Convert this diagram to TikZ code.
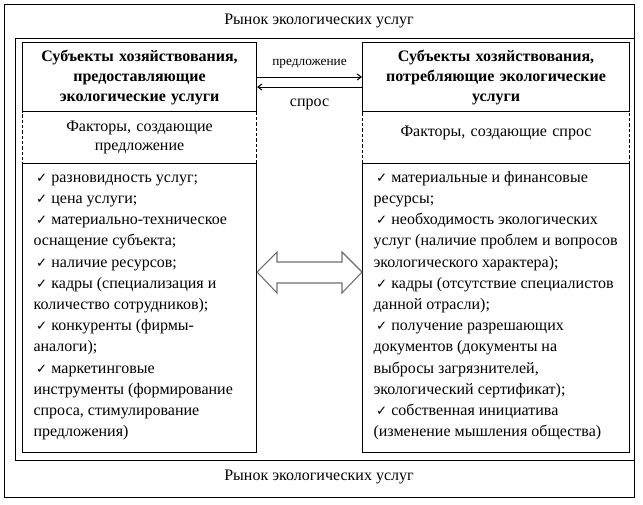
\documentclass[tikz,border=0pt]{standalone}
\usepackage{fontspec}
\setmainfont{Liberation Serif}
\newfontfamily\symfont{DejaVu Sans}
\usetikzlibrary{arrows.meta,calc,positioning}
\definecolor{ArrGray}{RGB}{110,110,110}

\newcommand{\chk}{\strut\hspace*{2pt}{\symfont\fontsize{10}{10}\selectfont ✓}\hspace{3pt}}

\tikzset{
  frame/.style={draw,anchor=north west,inner sep=0pt},
  headbox/.style={draw,anchor=north west,inner sep=0pt,align=center,
    font=\fontsize{12}{15}\selectfont\bfseries,minimum height=51.75pt},
  facbox/.style={draw,anchor=north west,inner sep=0pt,align=center,
    dash pattern=on 2.5pt off 1.5pt,minimum height=39pt,
    font=\fontsize{12}{14.3}\selectfont},
  listbox/.style={draw,anchor=north west,inner sep=0pt,minimum height=216.75pt},
  listtext/.style={anchor=north west,inner sep=0pt,align=left},
  tip/.style={-{Straight Barb[length=3pt,width=4.5pt]}}
}

\begin{document}
\begin{tikzpicture}[x=0.75pt,y=-0.75pt,line width=0.8pt,
  every node/.style={font=\fontsize{12}{15.9}\selectfont}]
\useasboundingbox (0,0) rectangle (643,504);
% рынок
\node[frame,minimum width=472.5pt,minimum height=369.75pt] (market) at (4,4) {};
\node (mtop) at (319,21) {Рынок экологических услуг};
\node (mbot) at (319,477) {Рынок экологических услуг};
\node[frame,minimum width=464.25pt,minimum height=316.5pt] (field) at (15,38) {};
% предложение
\node[headbox,minimum width=175.5pt,text width=170pt] (lhead) at (22,42)
  {Субъекты хозяйствования,\\предоставляющие\\экологические услуги};
\node[facbox,minimum width=175.5pt,text width=170pt] (lfac) at (22,111)
  {Факторы, создающие\\предложение};
\node[listbox,minimum width=175.5pt] (llist) at (22,163) {};
\node[listtext] (litems) at (33,167) {\chk разновидность услуг;\\
  \chk цена услуги;\\
  \chk материально-техническое\\
  оснащение субъекта;\\
  \chk наличие ресурсов;\\
  \chk кадры (специализация и\\
  количество сотрудников);\\
  \chk конкуренты (фирмы-\\
  аналоги);\\
  \chk маркетинговые\\
  инструменты (формирование\\
  спроса, стимулирование\\
  предложения)};
% спрос
\node[headbox,minimum width=200.25pt,text width=194pt] (rhead) at (362,42)
  {Субъекты хозяйствования,\\потребляющие экологические\\услуги};
\node[facbox,minimum width=200.25pt,text width=194pt] (rfac) at (362,111)
  {Факторы, создающие спрос\\[-5pt]\mbox{}};
\node[listbox,minimum width=200.25pt] (rlist) at (362,163) {};
\node[listtext] (ritems) at (373,167) {\chk материальные и финансовые\\
  ресурсы;\\
  \chk необходимость экологических\\
  услуг (наличие проблем и вопросов\\
  экологического характера);\\
  \chk кадры (отсутствие специалистов\\
  данной отрасли);\\
  \chk получение разрешающих\\
  документов (документы на\\
  выбросы загрязнителей,\\
  экологический сертификат);\\
  \chk собственная инициатива\\
  (изменение мышления общества)};
% связи
\draw[tip] (lhead.east) -- (lhead.east -| rhead.west)
  node[midway,above=2.5pt,font=\fontsize{10}{10}\selectfont] (offer) {предложение};
\draw[tip] ([yshift=-7.5pt]rhead.west) -- ([yshift=-7.5pt]rhead.west -| lhead.east)
  node[midway,below=5.5pt] (demand) {спрос};
\draw[ArrGray] (llist.east |- 0,272) -- (277,252) -- (277,262) -- (342,262) -- (342,252)
  -- (rlist.west |- 0,272) -- (342,293) -- (342,283) -- (277,283) -- (277,293) -- cycle;
\end{tikzpicture}
\end{document}
